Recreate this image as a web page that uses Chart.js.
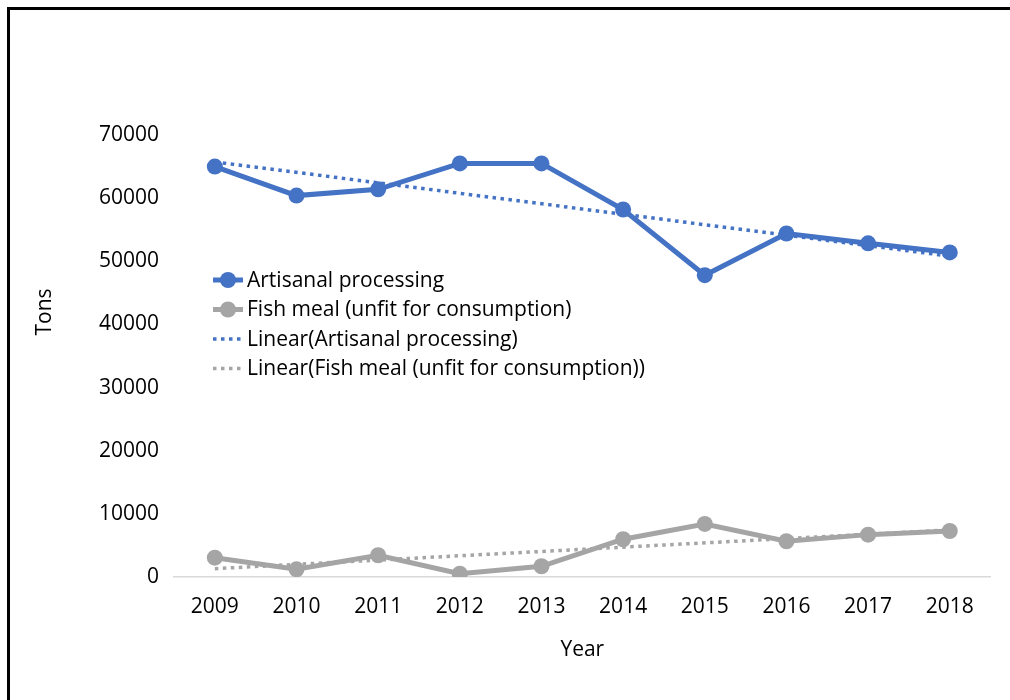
<!DOCTYPE html>
<html>
<head>
<meta charset="utf-8">
<script src="https://cdn.jsdelivr.net/npm/chart.js@4.4.1/dist/chart.umd.min.js"></script>
<style>
  html, body { margin:0; padding:0; background:#fff; overflow:hidden; }
  #wrap { position:relative; width:1010px; height:700px; }
  #frame { position:absolute; left:7px; top:7px; right:-20px; bottom:-20px;
           border-left:3px solid #000; border-top:3px solid #000; pointer-events:none; }
</style>
</head>
<body>
<div id="wrap">
  <canvas id="c" width="1010" height="700"></canvas>
  <div id="frame"></div>
</div>
<script>
  const years = ["2009","2010","2011","2012","2013","2014","2015","2016","2017","2018"];
  const artisanal = [65000, 60400, 61400, 65500, 65500, 58200, 47800, 54400, 52850, 51400];
  const fishMeal  = [3060, 1220, 3440, 520, 1700, 5980, 8400, 5660, 6710, 7290];
  // trend lines: only the end values, the gap in between is spanned
  const artisanalTrend = [65740, null, null, null, null, null, null, null, null, 50820];
  const fishMealTrend  = [1320, null, null, null, null, null, null, null, null, 7450];
  const yTicks = [0, 10000, 20000, 30000, 40000, 50000, 60000, 70000];

  const BLUE = "#4472C4", GREY = "#A5A5A5";
  const FONT = "'Open Sans'";

  Chart.defaults.font.family = FONT;
  Chart.defaults.font.size = 21;
  Chart.defaults.color = "#000";

  function seriesDs(label, data, color){
    return { label, data, borderColor:color, backgroundColor:color, borderWidth:5,
             pointRadius:8, pointBorderWidth:0, pointBackgroundColor:color, tension:0 };
  }
  function trendDs(label, data, color){
    return { label, data, borderColor:color, backgroundColor:color, borderWidth:3.5,
             borderDash:[3.5,4.5], borderCapStyle:"butt", pointRadius:0, spanGaps:true };
  }

  // legend sits inside the plot, plus the rotated "Tons" title
  const insideLegend = {
    id: "insideLegend",
    afterDatasetsDraw(chart){
      const { ctx, chartArea } = chart;
      const x0 = chartArea.left + 39, y0 = chartArea.top + 145, rowH = 29.5;
      ctx.save();
      ctx.font = `21px ${FONT}`;
      ctx.textBaseline = "middle";
      chart.data.datasets.forEach((ds, i) => {
        const y = y0 + i * rowH;
        ctx.strokeStyle = ds.borderColor;
        ctx.lineWidth = ds.borderWidth;
        ctx.setLineDash(ds.borderDash || []);
        ctx.beginPath(); ctx.moveTo(x0, y); ctx.lineTo(x0 + 30, y); ctx.stroke();
        ctx.setLineDash([]);
        if (ds.pointRadius) {
          ctx.fillStyle = ds.backgroundColor;
          ctx.beginPath(); ctx.arc(x0 + 15, y, 8, 0, Math.PI * 2); ctx.fill();
        }
        ctx.fillStyle = "#000";
        ctx.fillText(ds.label, x0 + 34, y + 1);
      });
      ctx.translate(45, 312);
      ctx.rotate(-Math.PI / 2);
      ctx.textAlign = "center";
      ctx.fillText("Tons", 0, 0);
      ctx.restore();
    }
  };

  new Chart(document.getElementById("c"), {
    type: "line",
    data: {
      labels: years,
      datasets: [
        seriesDs("Artisanal processing", artisanal, BLUE),
        seriesDs("Fish meal (unfit for consumption)", fishMeal, GREY),
        trendDs("Linear(Artisanal processing)", artisanalTrend, BLUE),
        trendDs("Linear(Fish meal (unfit for consumption))", fishMealTrend, GREY)
      ]
    },
    options: {
      responsive: false,
      animation: false,
      layout: { padding: { top:135, right:19.4, bottom:0, left:0 } },
      plugins: { legend:{ display:false }, tooltip:{ enabled:false } },
      scales: {
        x: {
          offset: true,
          grid: { display:false, drawTicks:false },
          border: { display:true, color:"#D9D9D9", width:1.5 },
          ticks: { padding:17, maxRotation:0 },
          title: { display:true, text:"Year", padding:{ top:0, bottom:37 } },
          afterFit(scale){ scale.height = 123; }
        },
        y: {
          min: 0, max: 70000,
          grid: { display:false, drawTicks:false },
          border: { display:false },
          afterBuildTicks(scale){ scale.ticks = yTicks.map(v => ({ value:v })); },
          ticks: { padding:15, callback: v => String(v) },
          afterFit(scale){ scale.width = 174; }
        }
      }
    },
    plugins: [insideLegend]
  });
</script>
</body>
</html>
